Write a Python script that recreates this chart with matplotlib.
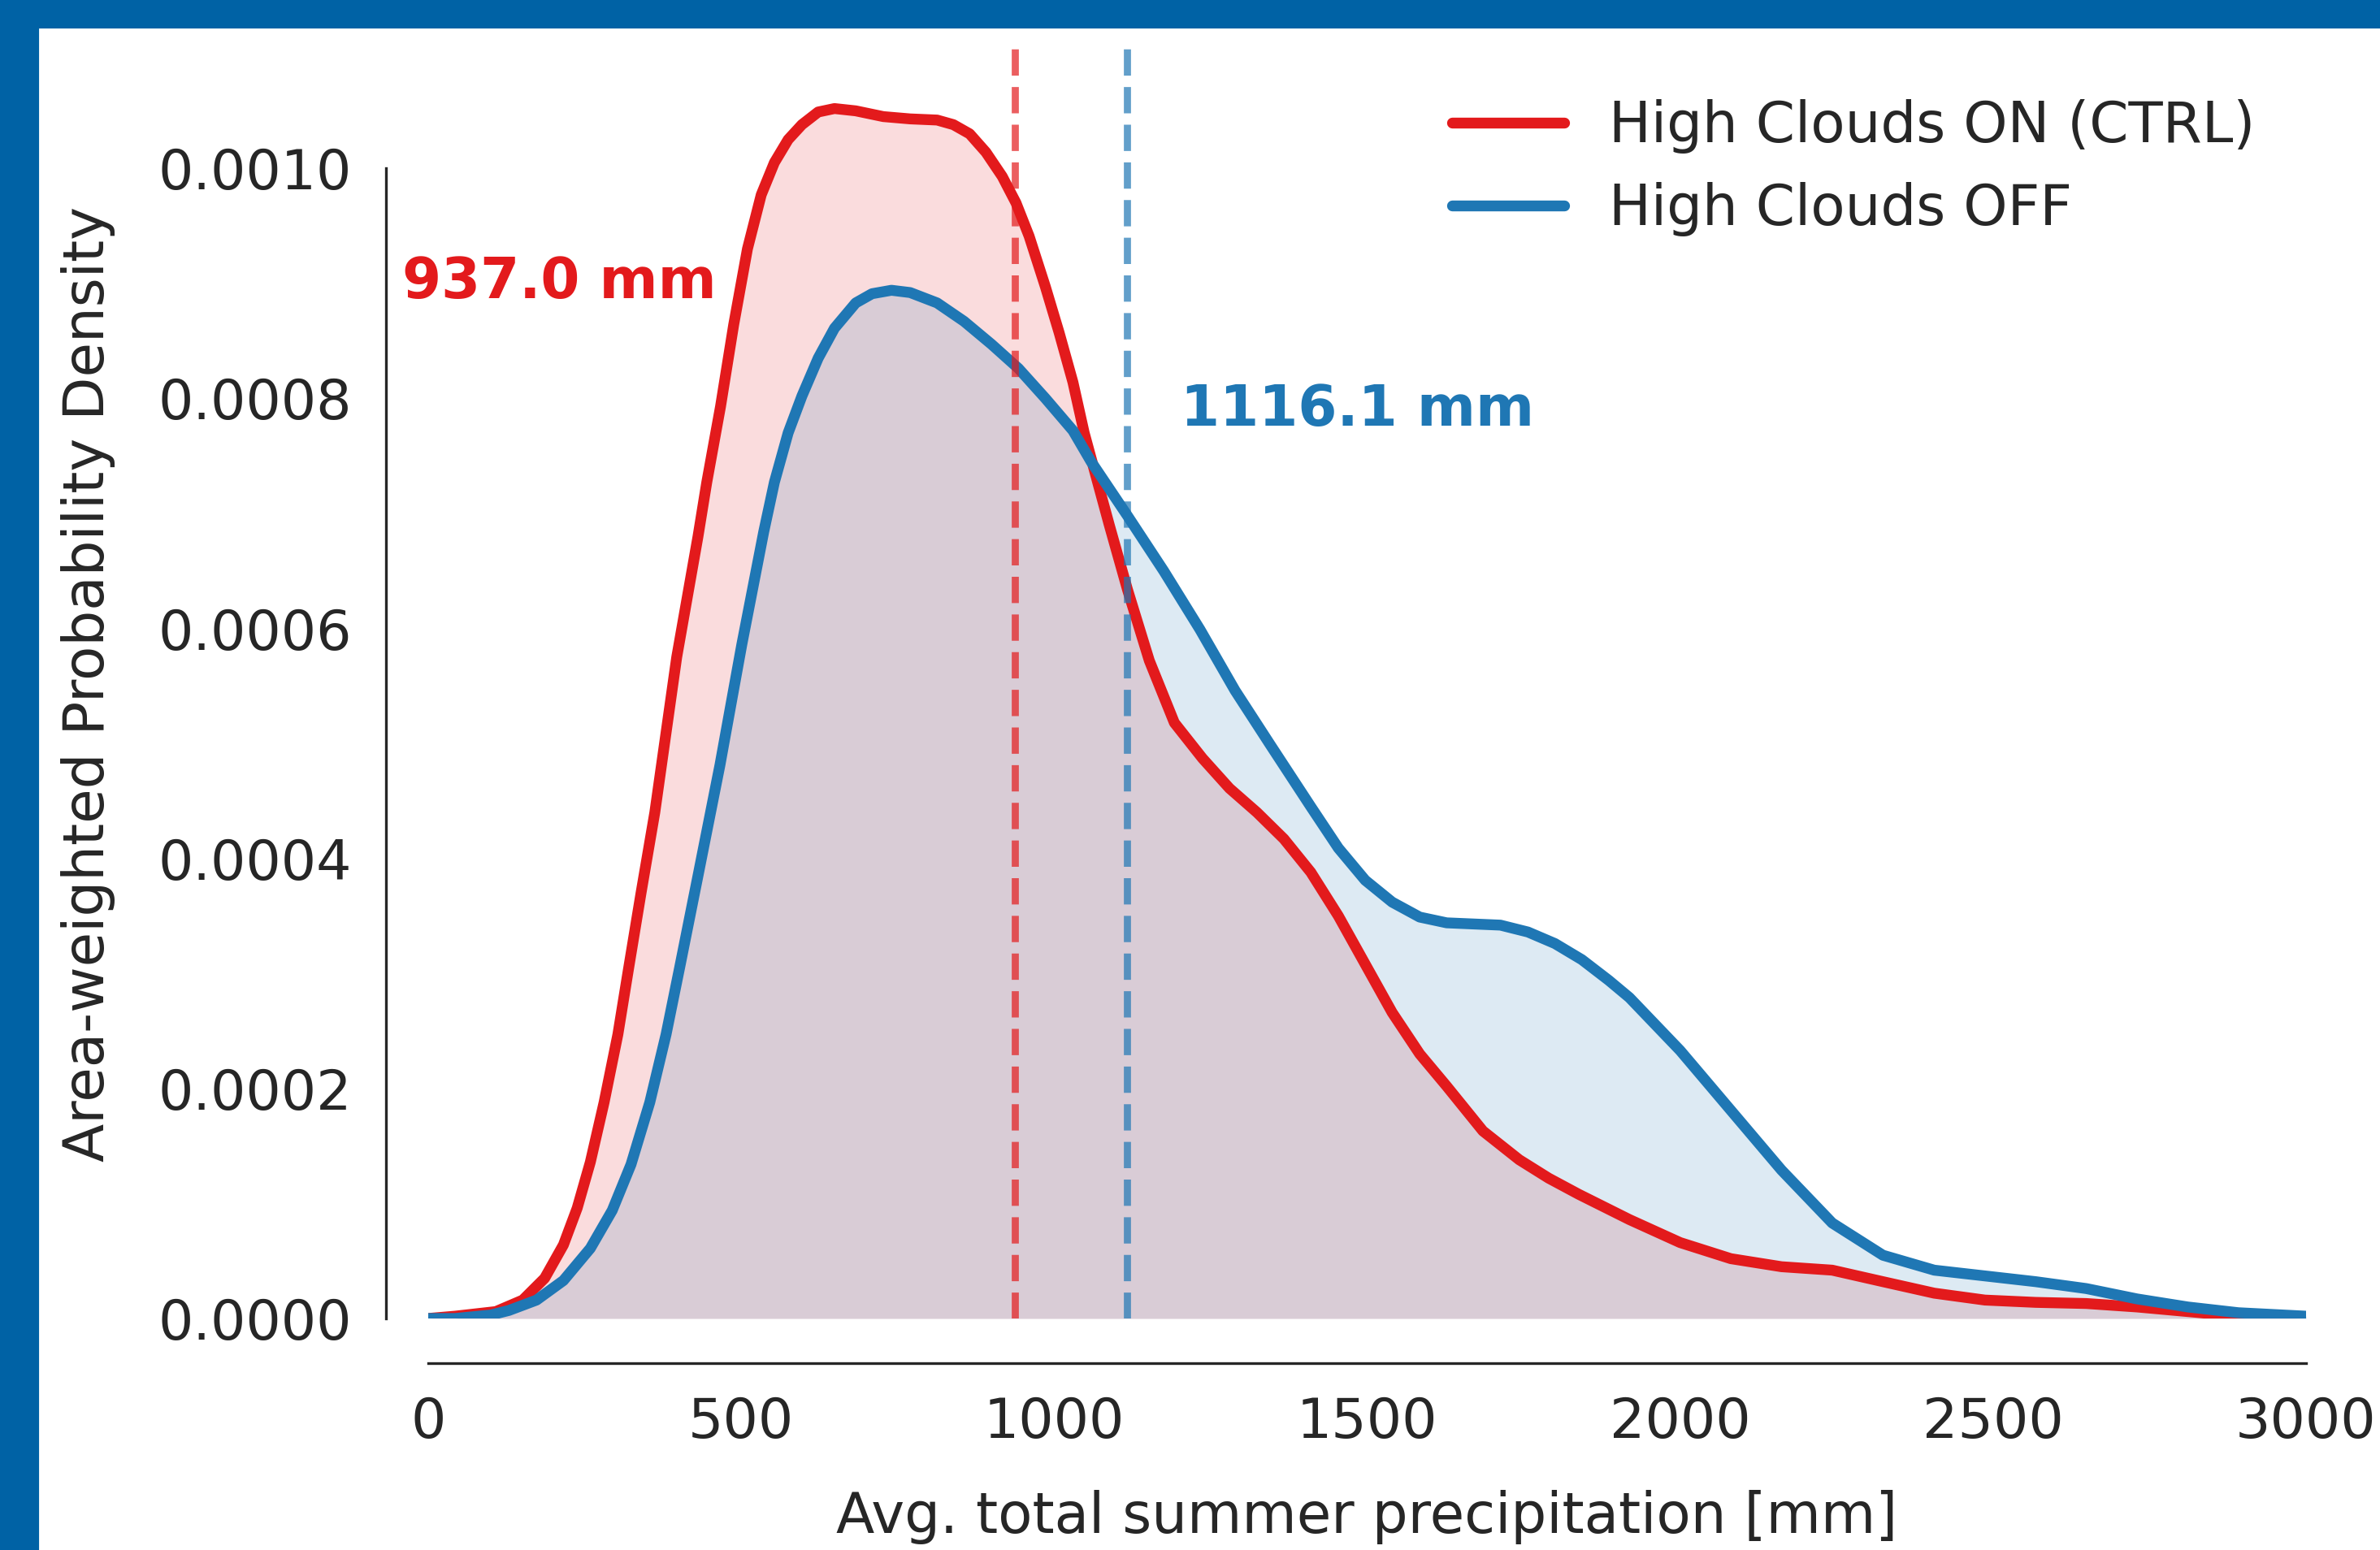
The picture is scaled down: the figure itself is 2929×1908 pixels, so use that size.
import numpy as np
import matplotlib.pyplot as plt
from matplotlib.patches import Rectangle
from matplotlib.ticker import FormatStrFormatter

# KDE curves (precip in mm, density in units of 1e-3)
precip_ctrl = [0, 43, 108, 151, 186, 216, 238, 259, 281, 303, 320, 340, 362, 397,
               431, 445, 467, 488, 510, 532, 553, 575, 597, 623, 649, 683, 727, 770,
               813, 839, 865, 891, 917, 939, 960, 986, 1008, 1030, 1048, 1088, 1117,
               1152, 1192, 1237, 1280, 1324, 1367, 1410, 1454, 1497, 1540, 1584,
               1627, 1685, 1743, 1790, 1838, 1919, 2000, 2081, 2162, 2243, 2324,
               2406, 2487, 2568, 2649, 2730, 2811, 2892, 3000]
dens_ctrl = [0.0, 0.002, 0.006, 0.016, 0.035, 0.064, 0.096, 0.136, 0.188, 0.247,
             0.304, 0.370, 0.440, 0.575, 0.680, 0.727, 0.793, 0.864, 0.930, 0.977,
             1.005, 1.025, 1.038, 1.049, 1.052, 1.050, 1.045, 1.043, 1.042, 1.038,
             1.030, 1.014, 0.993, 0.970, 0.941, 0.897, 0.857, 0.814, 0.770, 0.690,
             0.634, 0.572, 0.518, 0.487, 0.461, 0.440, 0.417, 0.388, 0.350, 0.308,
             0.266, 0.230, 0.202, 0.163, 0.138, 0.122, 0.108, 0.086, 0.066, 0.052,
             0.045, 0.042, 0.032, 0.022, 0.016, 0.014, 0.013, 0.010, 0.006, 0.002,
             0.0]

precip_off = [0, 43, 100, 129, 173, 216, 259, 294, 324, 354, 380, 402, 431, 466,
              501, 536, 553, 575, 597, 623, 649, 683, 709, 740, 770, 813, 856, 900,
              943, 986, 1030, 1059, 1117, 1175, 1233, 1289, 1345, 1410, 1454, 1497,
              1540, 1584, 1627, 1670, 1713, 1757, 1800, 1843, 1886, 1919, 2000,
              2081, 2162, 2243, 2324, 2406, 2487, 2568, 2649, 2730, 2811, 2892, 3000]
dens_off = [0.0, 0.0, 0.003, 0.007, 0.016, 0.033, 0.061, 0.094, 0.134, 0.188,
            0.247, 0.306, 0.385, 0.481, 0.586, 0.684, 0.727, 0.770, 0.802, 0.835,
            0.861, 0.883, 0.891, 0.894, 0.892, 0.883, 0.867, 0.847, 0.826, 0.800,
            0.772, 0.745, 0.698, 0.650, 0.599, 0.546, 0.499, 0.445, 0.409, 0.381,
            0.362, 0.349, 0.344, 0.343, 0.342, 0.336, 0.326, 0.312, 0.294, 0.279,
            0.233, 0.181, 0.129, 0.083, 0.055, 0.042, 0.037, 0.032, 0.026, 0.017,
            0.010, 0.005, 0.002]

labels = ["High Clouds ON (CTRL)", "High Clouds OFF"]
means = [937.0, 1116.1]
colors = ["#E31A1C", "#1F77B4"]

plt.rcParams['font.family'] = ['DejaVu Sans']
text_color = "#262626"

fig = plt.figure(figsize=(2929 / 300, 1908 / 300), dpi=300)
ax = fig.add_axes([527 / 2929, 285 / 1908, (2838 - 527) / 2929, (1848 - 285) / 1908])

series = [(precip_ctrl, dens_ctrl), (precip_off, dens_off)]
for (x, d), c in zip(series, colors):
    y = np.array(d) * 1e-3
    ax.fill_between(x, y, color=c, alpha=0.15, linewidth=0)
for (x, d), c, lab in zip(series, colors, labels):
    y = np.array(d) * 1e-3
    ax.plot(x, y, color=c, lw=3.2, label=lab, solid_capstyle='round',
            solid_joinstyle='round')

for m, c in zip(means, colors):
    ax.axvline(m, color=c, ls='--', lw=2.1, alpha=0.7)

ax.text(-42, 0.000901, f"{means[0]:.1f} mm", color=colors[0], fontsize=16.6,
        fontweight='bold', ha='left', va='center')
ax.text(1202, 0.000790, f"{means[1]:.1f} mm", color=colors[1], fontsize=16.6,
        fontweight='bold', ha='left', va='center')

ax.set_xlim(0, 3000)
ax.set_ylim(0, 0.001104)
ax.set_xticks(np.arange(0, 3001, 500))
ax.set_yticks(np.arange(0, 0.00101, 0.0002))
ax.yaxis.set_major_formatter(FormatStrFormatter('%.4f'))
ax.tick_params(axis='both', length=0, labelsize=16.4, labelcolor=text_color)
ax.tick_params(axis='y', pad=10)
ax.tick_params(axis='x', pad=9.5)

for s in ['top', 'right']:
    ax.spines[s].set_visible(False)
ax.spines['left'].set_position(('outward', 12.6))
ax.spines['bottom'].set_position(('outward', 13.2))
ax.spines['left'].set_bounds(0, 0.001)
ax.spines['bottom'].set_bounds(0, 3000)
for s in ['left', 'bottom']:
    ax.spines[s].set_color(text_color)
    ax.spines[s].set_linewidth(0.8)

ax.set_xlabel("Avg. total summer precipitation [mm]", fontsize=16.6, color=text_color,
              labelpad=12)
ax.set_ylabel("Area-weighted Probability Density", fontsize=16.6, color=text_color,
              labelpad=12.5)

leg = ax.legend(loc='upper right', frameon=False, fontsize=16.6)
for t in leg.get_texts():
    t.set_color(text_color)

# blue frame at the top and left edges
border = "#0062A5"
fig.patches.append(Rectangle((0, 1 - 33 / 1908), 1, 33 / 1908, transform=fig.transFigure,
                             color=border, zorder=10))
fig.patches.append(Rectangle((0, 0), 46 / 2929, 1, transform=fig.transFigure,
                             color=border, zorder=10))

fig.savefig("out.png", dpi=300)
